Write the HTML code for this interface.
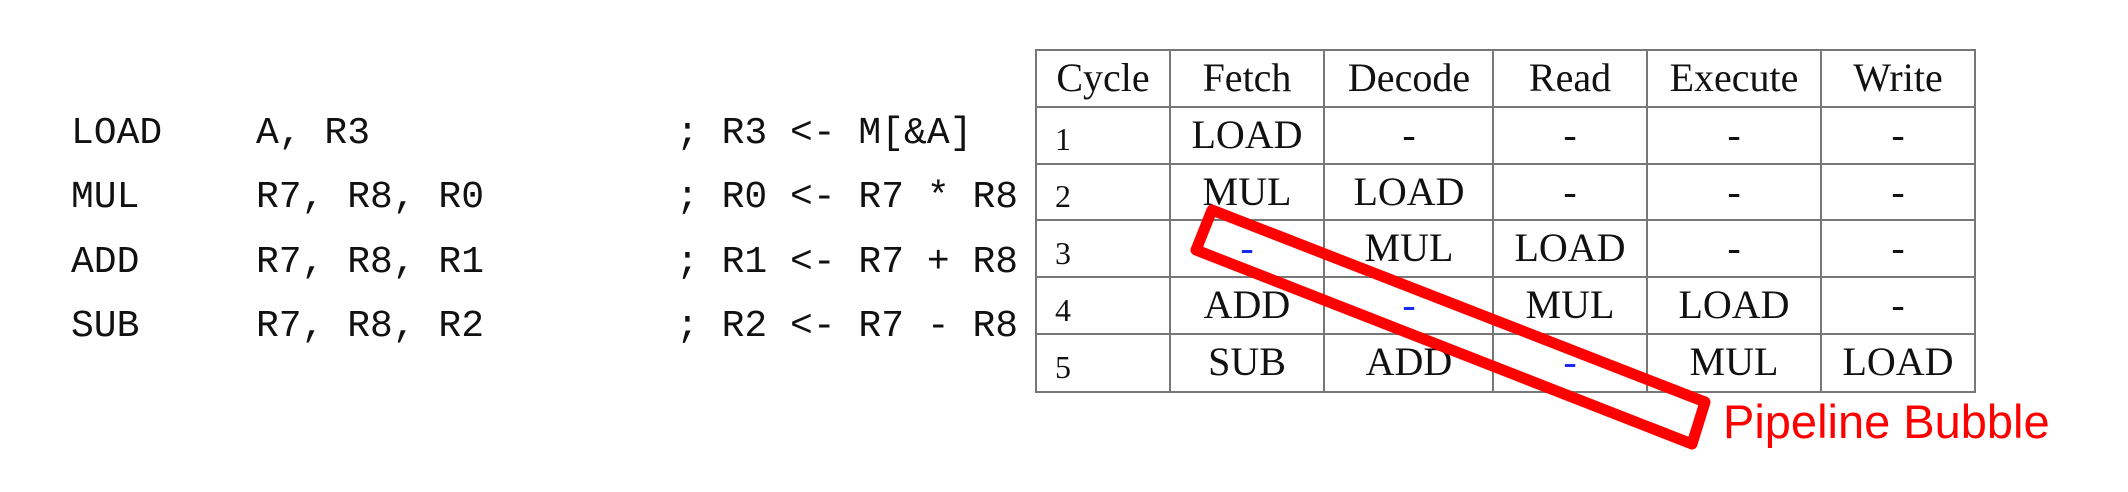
<!DOCTYPE html>
<html><head><meta charset="utf-8"><style>
html,body{margin:0;padding:0;background:#fff;}
svg{display:block}
</style></head><body>
<svg width="2128" height="492" viewBox="0 0 2128 492" xmlns="http://www.w3.org/2000/svg">
<rect width="2128" height="492" fill="#fff"/>
<g font-family="Liberation Mono, monospace" font-size="38" fill="#111">
<text x="71" y="143">LOAD</text><text x="256" y="143">A, R3</text><text x="676" y="143">; R3 &lt;- M[&amp;A]</text>
<text x="71" y="207">MUL</text><text x="256" y="207">R7, R8, R0</text><text x="676" y="207">; R0 &lt;- R7 * R8</text>
<text x="71" y="272">ADD</text><text x="256" y="272">R7, R8, R1</text><text x="676" y="272">; R1 &lt;- R7 + R8</text>
<text x="71" y="336">SUB</text><text x="256" y="336">R7, R8, R2</text><text x="676" y="336">; R2 &lt;- R7 - R8</text>
</g>
<g stroke="#777" stroke-width="2" fill="none">
<rect x="1036" y="50" width="939" height="342"/>
<line x1="1036" y1="107" x2="1975" y2="107"/>
<line x1="1036" y1="164" x2="1975" y2="164"/>
<line x1="1036" y1="220" x2="1975" y2="220"/>
<line x1="1036" y1="277" x2="1975" y2="277"/>
<line x1="1036" y1="334" x2="1975" y2="334"/>
<line x1="1170" y1="50" x2="1170" y2="392"/>
<line x1="1324" y1="50" x2="1324" y2="392"/>
<line x1="1493" y1="50" x2="1493" y2="392"/>
<line x1="1647" y1="50" x2="1647" y2="392"/>
<line x1="1821" y1="50" x2="1821" y2="392"/>
</g>
<g font-family="Liberation Serif, serif" font-size="40" fill="#111" text-anchor="middle">
<text x="1103" y="91">Cycle</text><text x="1247" y="91">Fetch</text><text x="1409" y="91">Decode</text><text x="1570" y="91">Read</text><text x="1734" y="91">Execute</text><text x="1898" y="91">Write</text>
<g text-anchor="start"><text x="1055" y="150" font-size="32">1</text><text x="1055" y="207" font-size="32">2</text><text x="1055" y="264" font-size="32">3</text><text x="1055" y="321" font-size="32">4</text><text x="1055" y="378" font-size="32">5</text></g>
<text x="1247" y="148">LOAD</text><text x="1409" y="148">-</text><text x="1570" y="148">-</text><text x="1734" y="148">-</text><text x="1898" y="148">-</text>
<text x="1247" y="205">MUL</text><text x="1409" y="205">LOAD</text><text x="1570" y="205">-</text><text x="1734" y="205">-</text><text x="1898" y="205">-</text>
<text x="1247" y="261" fill="#1a2cf0">-</text><text x="1409" y="261">MUL</text><text x="1570" y="261">LOAD</text><text x="1734" y="261">-</text><text x="1898" y="261">-</text>
<text x="1247" y="318">ADD</text><text x="1409" y="318" fill="#1a2cf0">-</text><text x="1570" y="318">MUL</text><text x="1734" y="318">LOAD</text><text x="1898" y="318">-</text>
<text x="1247" y="375">SUB</text><text x="1409" y="375">ADD</text><text x="1570" y="375" fill="#1a2cf0">-</text><text x="1734" y="375">MUL</text><text x="1898" y="375">LOAD</text>
</g>
<polygon points="1212,210 1705,402 1692,444 1196,250" fill="none" stroke="#f00" stroke-width="11" stroke-linejoin="round"/>
<text x="1723" y="438" font-family="Liberation Sans, sans-serif" font-size="47" fill="#f00">Pipeline Bubble</text>
</svg>
</body></html>
